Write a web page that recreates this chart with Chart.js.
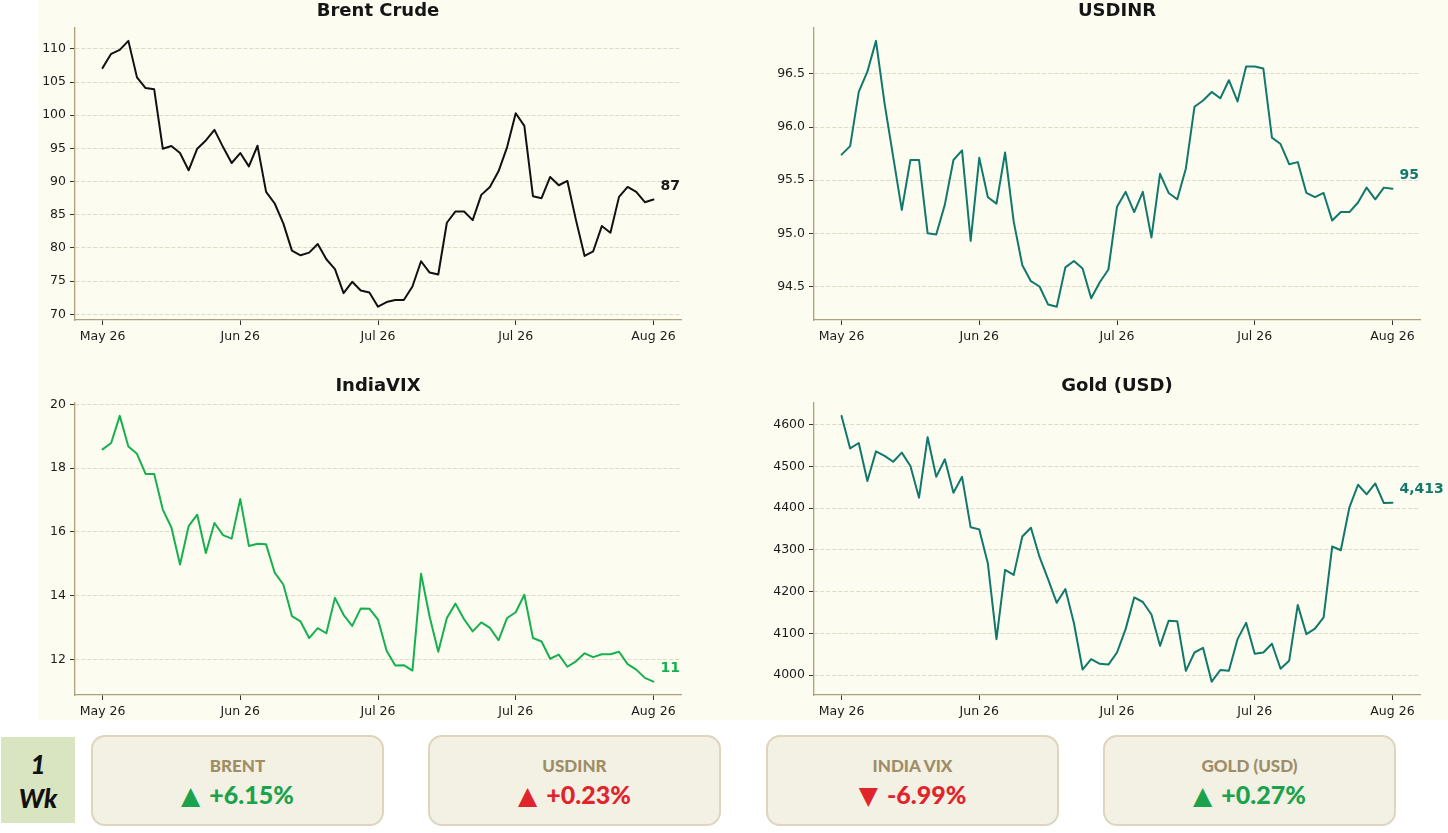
<!DOCTYPE html>
<html>
<head>
<meta charset="utf-8">
<script src="https://cdn.jsdelivr.net/npm/chart.js@4.4.1/dist/chart.umd.min.js"></script>
<style>
  html, body { margin:0; padding:0; background:#ffffff; }
  body { width:1448px; height:833px; position:relative; overflow:hidden; }
  #fig { position:absolute; left:38px; top:0; width:1410px; height:720px; background:#FCFCF0; }
  #fig canvas { position:absolute; }
  .wk { position:absolute; left:1px; top:737px; width:74px; height:86px; background:#D9E5C1;
        font-family:Lato, "Open Sans", sans-serif; font-weight:900; font-style:italic; font-size:26px;
        color:#111; text-align:center; }
  .wk div { position:absolute; left:0; width:74px; height:34px; line-height:34px; }
  .card { position:absolute; top:735px; width:293px; height:91px; box-sizing:border-box;
          border:2px solid #DDD5BE; border-radius:14px; background:#F3F0E4;
          font-family:Lato, "Open Sans", sans-serif; text-align:center; }
  .card .lab { position:absolute; left:0; right:0; top:18px; line-height:22px; font-size:17px; font-weight:900; color:#9E8E66; }
  .card .val { position:absolute; left:0; right:0; top:42px; line-height:30px; font-size:25px; font-weight:900; white-space:nowrap; }
  .card .tri { display:inline-block; font-family:"DejaVu Sans", sans-serif; font-size:25px; font-weight:normal; margin-right:9px; }
</style>
</head>
<body>
<div id="fig">
  <canvas id="c0" width="705" height="360" style="left:0;top:0"></canvas>
  <canvas id="c1" width="705" height="360" style="left:705px;top:0"></canvas>
  <canvas id="c2" width="705" height="360" style="left:0;top:375px"></canvas>
  <canvas id="c3" width="705" height="360" style="left:705px;top:375px"></canvas>
</div>
<div class="wk"><div style="top:10px">1</div><div style="top:44px">Wk</div></div>
<div id="cards"></div>
<script>
// ---- data ----
const tickIdx = [0, 16, 32, 48, 64];
const tickLabels = ["May 26", "Jun 26", "Jul 26", "Jul 26", "Aug 26"];

const brent = [107.1,109.25,109.85,111.2,105.7,104.1,103.9,94.96,95.36,94.3,91.7,94.96,96.2,97.8,95.2,92.8,
  94.3,92.3,95.4,88.45,86.7,83.7,79.6,78.9,79.3,80.6,78.3,76.8,73.2,74.9,73.6,73.3,
  71.15,71.85,72.15,72.15,74.2,78.0,76.3,76.0,83.8,85.5,85.5,84.2,88.0,89.2,91.55,95.2,
  100.3,98.4,87.8,87.5,90.7,89.45,90.1,84.2,78.8,79.5,83.3,82.3,87.7,89.2,88.45,86.9,87.3];

const usdinr = [95.74,95.82,96.33,96.52,96.81,96.22,95.72,95.22,95.69,95.69,95.0,94.99,95.27,95.69,95.78,94.93,
  95.71,95.34,95.28,95.76,95.11,94.70,94.55,94.5,94.33,94.31,94.68,94.74,94.67,94.39,94.54,94.66,
  95.25,95.39,95.2,95.39,94.96,95.56,95.38,95.32,95.61,96.19,96.25,96.33,96.27,96.44,96.24,96.57,
  96.57,96.55,95.9,95.84,95.65,95.67,95.38,95.34,95.38,95.12,95.2,95.2,95.29,95.43,95.32,95.43,95.42];

const indiaVix = [18.59,18.79,19.64,18.68,18.45,17.82,17.82,16.70,16.14,14.98,16.18,16.54,15.34,16.28,15.9,15.79,
  17.03,15.56,15.63,15.61,14.72,14.35,13.36,13.19,12.67,12.98,12.82,13.93,13.40,13.05,13.6,13.59,
  13.25,12.27,11.81,11.82,11.65,14.69,13.34,12.24,13.30,13.75,13.26,12.88,13.16,12.99,12.60,13.30,
  13.48,14.03,12.67,12.56,12.02,12.15,11.77,11.94,12.19,12.07,12.16,12.16,12.24,11.85,11.68,11.42,11.30];

const goldUsd = [4621,4543,4556,4465,4536,4525,4511,4533,4501,4425,4570,4475,4517,4437,4475,4354,
  4349,4267,4086,4252,4240,4332,4353,4283,4229,4173,4206,4124,4013,4038,4027,4025,
  4054,4110,4186,4175,4145,4070,4130,4129,4010,4054,4065,3984,4012,4010,4086,4125,
  4051,4054,4075,4015,4034,4168,4098,4111,4138,4308,4299,4402,4456,4433,4459,4412,4413];

const cardNames = ["BRENT", "USDINR", "INDIA VIX", "GOLD (USD)"];
const cardChanges = [6.15, 0.23, -6.99, 0.27];
const cardUp = [true, true, false, true];
const cardGood = [true, false, false, true];

// ---- chart helpers ----
const SPINE = '#ADA07B';
const TICKC = '#333333';
const GRIDC = '#DEDAC5';
const TXT = '#1c1c1c';
const TICKFONT = { family: 'DejaVu Sans', size: 12.5 };

const endLabel = {
  id: 'endLabel',
  afterDatasetsDraw(chart, args, o) {
    const ds = chart.data.datasets[0];
    const last = ds.data[ds.data.length - 1];
    const x = chart.scales.x.getPixelForValue(last.x);
    const y = chart.scales.y.getPixelForValue(last.y);
    const ctx = chart.ctx;
    ctx.save();
    ctx.font = 'bold 14px "DejaVu Sans"';
    ctx.fillStyle = o.color;
    ctx.textAlign = 'left';
    ctx.textBaseline = 'middle';
    ctx.fillText(Math.round(last.y).toLocaleString('en-US'), x + 7, y - 13);
    ctx.restore();
  }
};

function makeChart(id, title, values, color, labelColor, step, fmt, yWidth, padRight) {
  const n = values.length;
  const lo = Math.min(...values), hi = Math.max(...values), m = (hi - lo) * 0.05;
  new Chart(document.getElementById(id), {
    type: 'line',
    data: { datasets: [{
      data: values.map((v, i) => ({ x: i, y: v })),
      borderColor: color, borderWidth: 2, pointRadius: 0, tension: 0, fill: false,
      borderJoinStyle: 'round', borderCapStyle: 'round'
    }] },
    options: {
      responsive: false, animation: false, events: [],
      layout: { padding: { left: 0, right: padRight, top: 0, bottom: 10 } },
      plugins: {
        legend: { display: false }, tooltip: { enabled: false },
        title: { display: true, text: title, fullSize: false, color: '#151515',
                 font: { family: 'DejaVu Sans', size: 18, weight: 'bold' }, padding: { top: 1, bottom: 5 } },
        endLabel: { color: labelColor }
      },
      scales: {
        x: {
          type: 'linear', min: -0.05 * (n - 1), max: (n - 1) * 1.05,
          afterBuildTicks: s => { s.ticks = tickIdx.map(v => ({ value: v })); },
          afterFit: s => { s.height = 30; },
          ticks: { callback: (v, i) => tickLabels[i], autoSkip: false, maxRotation: 0, padding: 4,
                   color: TXT, font: TICKFONT },
          grid: { drawOnChartArea: false, drawTicks: true, tickLength: 5, tickColor: TICKC, tickWidth: 1 },
          border: { display: true, color: SPINE, width: 1.3 }
        },
        y: {
          min: lo - m, max: hi + m,
          afterBuildTicks: s => {
            const t = [];
            for (let k = Math.ceil(s.min / step); k * step <= s.max; k++) t.push({ value: Math.round(k * step * 1000) / 1000 });
            s.ticks = t;
          },
          afterFit: s => { s.width = yWidth; },
          ticks: { callback: fmt, padding: 4, color: TXT, font: TICKFONT },
          grid: { color: GRIDC, lineWidth: 1, drawTicks: true, tickLength: 5, tickColor: TICKC, tickWidth: 1, tickBorderDash: [] },
          border: { display: true, color: SPINE, width: 1.3, dash: [4, 2] }
        }
      }
    },
    plugins: [endLabel]
  });
}

makeChart('c0', 'Brent Crude', brent, '#111111', '#1a1a1a', 5, v => String(v), 37, 62);
makeChart('c1', 'USDINR', usdinr, '#11786B', '#11786B', 0.5, v => v.toFixed(1), 71, 28);
makeChart('c2', 'IndiaVIX', indiaVix, '#17B04F', '#17B04F', 2, v => String(v), 37, 62);
makeChart('c3', 'Gold (USD)', goldUsd, '#11786B', '#11786B', 100, v => String(v), 71, 28);

// ---- cards ----
const lefts = [91, 428, 766, 1103];
const cardsEl = document.getElementById('cards');
cardNames.forEach((name, i) => {
  const c = document.createElement('div');
  c.className = 'card';
  c.style.left = lefts[i] + 'px';
  const lab = document.createElement('div');
  lab.className = 'lab';
  lab.textContent = name;
  const val = document.createElement('div');
  val.className = 'val';
  val.style.color = cardGood[i] ? '#1BA24C' : '#E0242B';
  const tri = document.createElement('span');
  tri.className = 'tri';
  tri.textContent = cardUp[i] ? '\u25B2' : '\u25BC';
  const pct = document.createElement('span');
  pct.textContent = (cardChanges[i] > 0 ? '+' : '') + cardChanges[i].toFixed(2) + '%';
  val.appendChild(tri); val.appendChild(pct);
  c.appendChild(lab); c.appendChild(val);
  cardsEl.appendChild(c);
});
</script>
</body>
</html>
